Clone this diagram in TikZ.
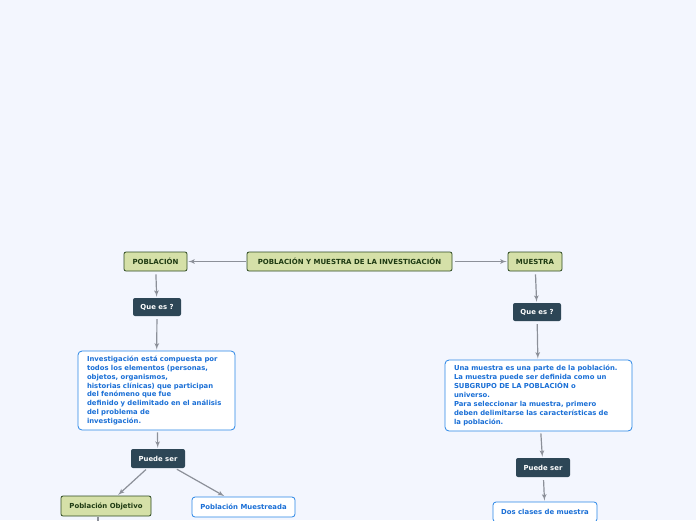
\documentclass[tikz,border=0pt]{standalone}
\usepackage{fontspec}
\setmainfont{DejaVu Sans}
\usetikzlibrary{shapes,arrows}
\definecolor{bgblue}{HTML}{F3F6FE}
\definecolor{linegray}{HTML}{8C9099}
\definecolor{topicfill}{HTML}{D5E0A8}
\definecolor{topicdraw}{HTML}{2E4A22}
\definecolor{topictext}{HTML}{1E3A12}
\definecolor{askfill}{HTML}{2D4656}
\definecolor{notedraw}{HTML}{2A86E6}
\definecolor{notetext}{HTML}{1A6FD6}
\tikzstyle{line} = [draw, -latex', color=linegray, line width=1.2pt]
\tikzstyle{topic} = [rectangle, draw=topicdraw, fill=topicfill, text=topictext, rounded corners=2pt, line width=0.8pt, minimum height=19pt, inner xsep=3pt, font=\fontsize{7}{8.9}\selectfont\bfseries]
\tikzstyle{ask} = [rectangle, fill=askfill, text=white, rounded corners=2pt, minimum height=19pt, inner xsep=3pt, font=\fontsize{6.9}{8.9}\selectfont\bfseries]
\tikzstyle{note} = [rectangle, draw=notedraw, fill=white, text=notetext, rounded corners=4pt, line width=0.8pt, inner xsep=9pt, align=left, font=\fontsize{6.85}{8.9}\selectfont\bfseries]
\tikzstyle{leaf} = [rectangle, draw=notedraw, fill=white, text=notetext, rounded corners=3pt, line width=0.8pt, minimum height=20pt, inner xsep=3pt, font=\fontsize{6.9}{8.9}\selectfont\bfseries]

\begin{document}
\begin{tikzpicture}[x=1pt, y=1pt]
		\fill [bgblue] (0,0) rectangle (696,-520);
		\useasboundingbox (0,0) rectangle (696,-520);
		
		\node [topic, minimum width=205pt] (central) at (349.5,-261.5) {POBLACIÓN Y MUESTRA DE LA INVESTIGACIÓN};
		\node [topic, left of=central, node distance=194pt, minimum width=63pt] (pob) {POBLACIÓN};
		\node [topic, right of=central, node distance=185.5pt, minimum width=54pt] (mue) {MUESTRA};
		\path [line, shorten <=1pt, shorten >=1pt] (central.west) to (pob.east);
		\path [line, shorten <=3pt, shorten >=1pt] (central.east) to (mue.west);
		
		
		\node [ask, below of=pob, node distance=45.5pt, xshift=1.5pt, minimum width=48pt, minimum height=18pt] (askpob) {Que es ?};
		\path [line, shorten <=3pt, shorten >=1pt] (pob) to (askpob);
		\node [note, below of=askpob, node distance=83.5pt, xshift=-0.5pt, text width=139pt, minimum height=79pt] (notepob) {Investigación está compuesta por\\todos los elementos (personas,\\objetos, organismos,\\historias clínicas) que participan\\del fenómeno que fue\\definido y delimitado en el análisis\\del problema de\\investigación.};
		\path [line, shorten <=3pt, shorten >=1pt] (askpob) to (notepob);
		\node [ask, below of=notepob, node distance=68pt, xshift=1.5pt, minimum width=54pt] (canpob) {Puede ser};
		\path [line, shorten <=2pt, shorten >=1pt] (notepob) to (canpob);
		
		
		\node [topic, below of=canpob, node distance=47.5pt, xshift=-52pt, minimum width=90pt, minimum height=20pt, font=\fontsize{6.9}{8.9}\selectfont\bfseries] (objetivo) {Población Objetivo};
		\path [line, shorten <=2pt, shorten >=1pt] (canpob) to (objetivo);
		\node [leaf, below of=canpob, node distance=48.5pt, xshift=85.5pt, minimum width=103pt] (muestreada) {Población Muestreada};
		\path [line, shorten <=2pt, shorten >=1pt] (canpob) to (muestreada);
		\coordinate [below of=objetivo, node distance=30pt, xshift=-8pt] (objdown);
		\path [line, shorten <=1pt] (objetivo.south -| objdown) to (objdown);
		
		
		\node [ask, below of=mue, node distance=50.5pt, xshift=2pt, minimum width=48pt, minimum height=18pt] (askmue) {Que es ?};
		\path [line, shorten <=3pt, shorten >=1pt] (mue) to (askmue);
		\node [note, below of=askmue, node distance=83.5pt, xshift=1.5pt, text width=169pt, minimum height=71pt] (notemue) {Una muestra es una parte de la población.\\La muestra puede ser definida como un\\SUBGRUPO DE LA POBLACIÓN o\\universo.\\Para seleccionar la muestra, primero\\deben delimitarse las características de\\la población.};
		\path [line, shorten <=3pt, shorten >=1pt] (askmue) to (notemue);
		\node [ask, below of=notemue, node distance=72pt, xshift=4.5pt, minimum width=54pt] (canmue) {Puede ser};
		\path [line, shorten <=2pt, shorten >=1pt] (notemue) to (canmue);
		\node [leaf, below of=canmue, node distance=44.5pt, xshift=2pt, minimum width=104pt] (clases) {Dos clases de muestra};
		\path [line, shorten <=3pt, shorten >=1pt] (canmue) to (clases);
\end{tikzpicture}
\end{document}
